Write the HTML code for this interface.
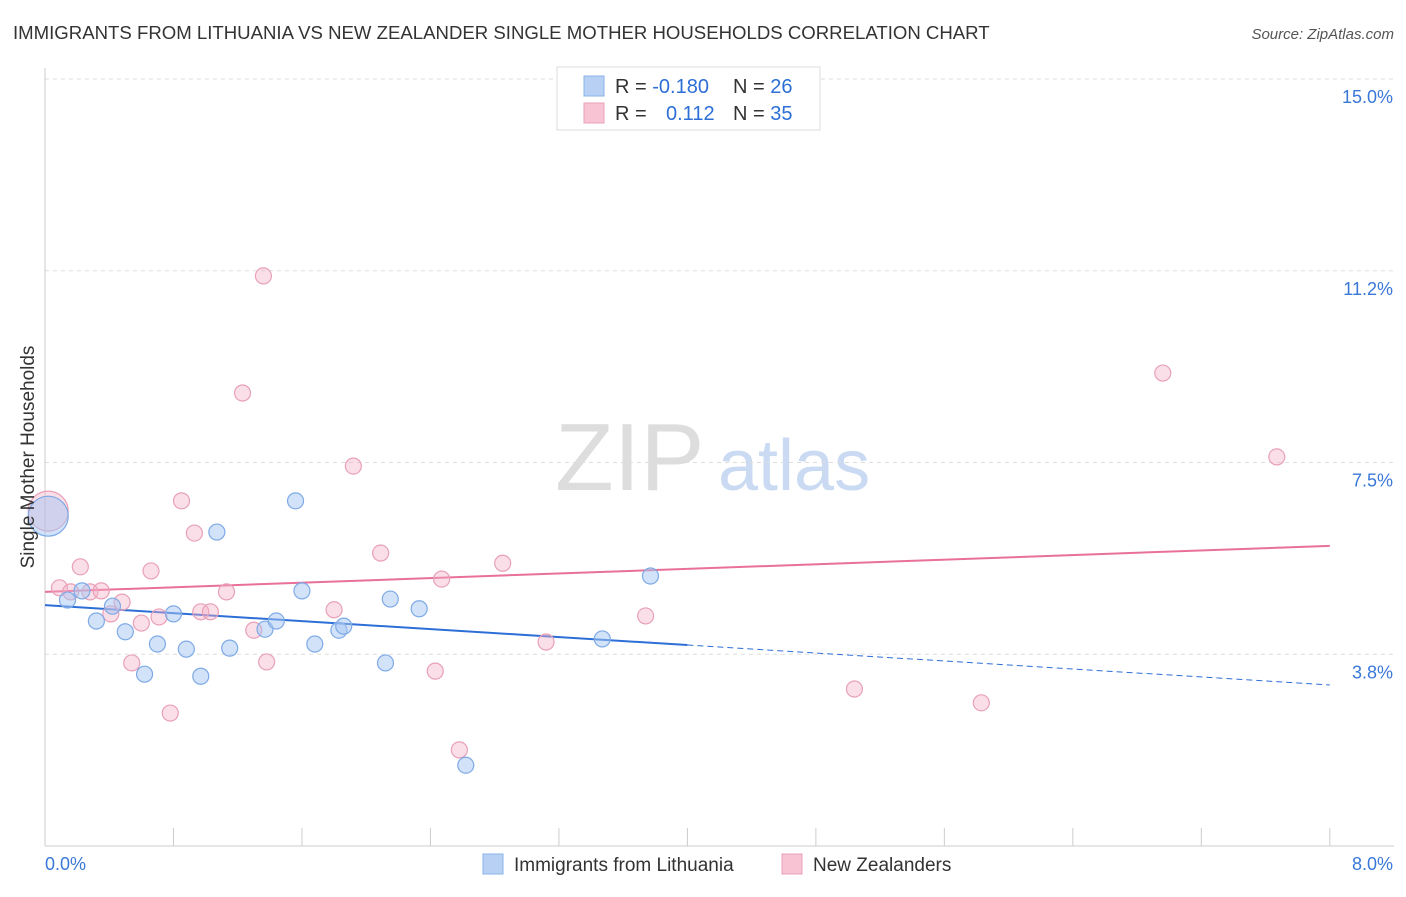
<!DOCTYPE html>
<html><head><meta charset="utf-8"><style>
body{margin:0;background:#fff;font-family:"Liberation Sans",sans-serif;}
svg text{font-family:"Liberation Sans",sans-serif;}
</style></head><body>
<svg id="chart" width="1406" height="892" xmlns="http://www.w3.org/2000/svg">
<text x="13" y="39" font-size="18.6" fill="#333">IMMIGRANTS FROM LITHUANIA VS NEW ZEALANDER SINGLE MOTHER HOUSEHOLDS CORRELATION CHART</text>
<text x="1394" y="39" font-size="15" fill="#555" font-style="italic" text-anchor="end">Source: ZipAtlas.com</text>
<g>
<text x="555" y="490" font-size="96" fill="#ddd" font-family="Liberation Serif,serif">ZIP</text>
<text x="718" y="490" font-size="72" fill="#c9daf2">atlas</text>
</g>
<g id="grid"></g>
<g id="axes"></g>
<g id="trends"></g>
<g id="points"></g>
<text transform="translate(34,457) rotate(-90)" font-size="19" fill="#333" text-anchor="middle">Single Mother Households</text>
<g>
<rect x="557" y="67" width="263" height="63" fill="#fff" stroke="#ddd"/>
<rect x="584" y="76" width="20" height="20" fill="#b8d0f4" stroke="#8ab4e8"/>
<rect x="584" y="103" width="20" height="20" fill="#f8c4d4" stroke="#e8a0b8"/>
<text x="615" y="93" font-size="20" fill="#333">R = <tspan fill="#2d6fd6">-0.180</tspan></text>
<text x="733" y="93" font-size="20" fill="#333">N = <tspan fill="#2d6fd6">26</tspan></text>
<text x="615" y="120" font-size="20" fill="#333">R = <tspan fill="#2d6fd6" x="666">0.112</tspan></text>
<text x="733" y="120" font-size="20" fill="#333">N = <tspan fill="#2d6fd6">35</tspan></text>
</g>
<g>
<rect x="483" y="854" width="20" height="20" fill="#b8d0f4" stroke="#8ab4e8"/>
<text x="514" y="871" font-size="19" fill="#333">Immigrants from Lithuania</text>
<rect x="782" y="854" width="20" height="20" fill="#f8c4d4" stroke="#e8a0b8"/>
<text x="813" y="871" font-size="19" fill="#333">New Zealanders</text>
</g>
</svg>
<script>
const yTicks=[3.75,7.5,11.25,15];
const yTickLabels=["3.8%","7.5%","11.2%","15.0%"];
const blueX=[0.02,0.14,0.23,0.32,0.42,0.50,0.62,0.70,0.80,0.88,0.97,1.07,1.15,1.37,1.44,1.56,1.60,1.68,1.83,1.86,2.12,2.15,2.33,2.62,3.47,3.77];
const blueY=[6.45,4.81,4.99,4.40,4.69,4.19,3.36,3.95,4.54,3.85,3.32,6.14,3.87,4.24,4.40,6.75,4.99,3.95,4.22,4.30,3.58,4.83,4.64,1.58,4.05,5.28];
const pinkX=[0.02,0.09,0.16,0.22,0.28,0.35,0.41,0.48,0.54,0.60,0.66,0.71,0.78,0.85,0.93,0.97,1.03,1.13,1.23,1.30,1.36,1.38,1.80,1.92,2.09,2.43,2.47,2.58,2.85,3.12,3.74,5.04,5.83,6.96,7.67];
const pinkY=[6.55,5.05,4.97,5.46,4.97,4.99,4.54,4.77,3.58,4.36,5.38,4.48,2.60,6.75,6.12,4.58,4.58,4.97,8.86,4.22,11.15,3.60,4.62,7.43,5.73,3.42,5.22,1.88,5.53,3.99,4.50,3.07,2.80,9.25,7.61];
const blueTrend=[4.71,3.15];
const pinkTrend=[4.97,5.87];
const NS="http://www.w3.org/2000/svg";
const X=v=>45+v*160.6, Y=v=>846-v*51.13;
function mk(tag,attrs,parent){const e=document.createElementNS(NS,tag);for(const k in attrs)e.setAttribute(k,attrs[k]);parent.appendChild(e);return e;}
const grid=document.getElementById('grid'),axes=document.getElementById('axes'),tr=document.getElementById('trends'),pts=document.getElementById('points');
yTicks.forEach((t,i)=>{
 const l=mk('line',{x1:45,x2:1394,y1:Y(t),y2:Y(t),stroke:'#ddd','stroke-dasharray':'4,4'},grid);
 
 
 const tx=mk('text',{x:1393,y:Y(t)+24,'font-size':18,fill:'#3a78d8','text-anchor':'end'},axes);
 tx.textContent=yTickLabels[i];
 
 
});
mk('line',{x1:45,x2:45,y1:68,y2:846,stroke:'#ccc'},axes);
mk('line',{x1:45,x2:1394,y1:846,y2:846,stroke:'#ccc'},axes);
for(let i=0;i<=10;i++){const t=mk('line',{x1:X(i*0.8),x2:X(i*0.8),y1:828,y2:846,stroke:'#ccc'},axes);
 
 }
const x0=mk('text',{x:45,y:870,'font-size':18,fill:'#3a78d8'},axes);x0.textContent='0.0%';


const x8=mk('text',{x:1393,y:870,'font-size':18,fill:'#3a78d8','text-anchor':'end'},axes);x8.textContent='8.0%';


function dot(x,y,i,fill,stroke,name){
 const r=i===0?20:8;
 const c=mk('circle',{cx:X(x),cy:Y(y),r:r,fill:fill,stroke:stroke,'stroke-width':1.2},pts);
 
 
}
pinkX.forEach((x,i)=>dot(x,pinkY[i],i,'rgba(245,175,198,0.4)','#e8a0b8','pink-point'));
blueX.forEach((x,i)=>dot(x,blueY[i],i,'rgba(165,198,242,0.5)','#7eaae6','blue-point'));
const by=v=>blueTrend[0]+(blueTrend[1]-blueTrend[0])*v/8;
let l1=mk('line',{stroke:'#2d6fd6','stroke-width':2},tr);
l1.setAttribute('x1',X(0));l1.setAttribute('y1',Y(by(0)));l1.setAttribute('x2',X(4));l1.setAttribute('y2',Y(by(4)));


let l2=mk('line',{stroke:'#2d6fd6','stroke-width':1,'stroke-dasharray':'6,4'},tr);
l2.setAttribute('x1',X(4));l2.setAttribute('y1',Y(by(4)));l2.setAttribute('x2',X(8));l2.setAttribute('y2',Y(by(8)));


let l3=mk('line',{stroke:'#e8709a','stroke-width':2},tr);
l3.setAttribute('x1',X(0));l3.setAttribute('y1',Y(pinkTrend[0]));l3.setAttribute('x2',X(8));l3.setAttribute('y2',Y(pinkTrend[1]));


</script>
</body></html>
